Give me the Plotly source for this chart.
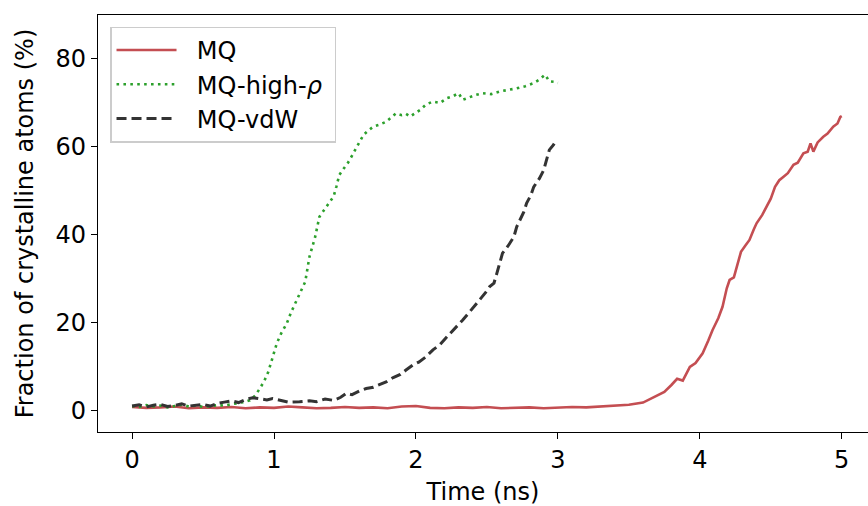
import plotly.graph_objects as go

# ---- data ----
mq_t = [0.0, 0.1, 0.2, 0.3, 0.4, 0.5, 0.6, 0.7, 0.8, 0.9, 1.0, 1.1, 1.2, 1.3, 1.4, 1.5,
        1.6, 1.7, 1.8, 1.9, 2.0, 2.1, 2.2, 2.3, 2.4, 2.5, 2.6, 2.7, 2.8, 2.9, 3.0, 3.1,
        3.2, 3.3, 3.4, 3.5, 3.6, 3.7, 3.75, 3.8, 3.84, 3.88, 3.93, 3.97, 4.02, 4.06, 4.09,
        4.13, 4.16, 4.19, 4.21, 4.24, 4.26, 4.29, 4.32, 4.35, 4.38, 4.40, 4.44, 4.47, 4.50,
        4.53, 4.56, 4.59, 4.62, 4.66, 4.69, 4.73, 4.76, 4.78, 4.80, 4.83, 4.87, 4.90, 4.94,
        4.97, 4.99, 5.0]
mq_y = [0.8, 0.6, 0.7, 0.9, 0.5, 0.7, 0.6, 0.8, 0.5, 0.7, 0.6, 0.9, 0.7, 0.5, 0.6, 0.8,
        0.6, 0.7, 0.5, 0.9, 1.0, 0.6, 0.5, 0.7, 0.6, 0.8, 0.5, 0.6, 0.7, 0.5, 0.6, 0.8,
        0.7, 0.9, 1.0, 1.3, 1.8, 3.5, 4.2, 5.8, 7.2, 6.8, 9.9, 10.8, 13.0, 15.9, 18.3,
        21.0, 23.6, 27.8, 29.7, 30.3, 32.7, 36.1, 37.5, 38.8, 41.2, 42.6, 44.5, 46.4, 48.2,
        50.9, 52.4, 53.2, 54.0, 55.9, 56.4, 58.5, 58.9, 60.8, 58.9, 61.0, 62.3, 63.0, 64.6,
        65.3, 66.8, 67.0]

hr_t = [0.0, 0.05, 0.1, 0.15, 0.2, 0.25, 0.3, 0.35, 0.4, 0.45, 0.5, 0.55, 0.6, 0.65, 0.7,
        0.75, 0.8, 0.83, 0.87, 0.90, 0.93, 0.96, 0.99, 1.02, 1.05, 1.09, 1.12, 1.16, 1.19,
        1.22, 1.25, 1.27, 1.29, 1.32, 1.35, 1.37, 1.40, 1.42, 1.44, 1.46, 1.49, 1.52, 1.55,
        1.58, 1.61, 1.63, 1.66, 1.70, 1.74, 1.79, 1.83, 1.86, 1.90, 1.93, 1.96, 2.0, 2.03,
        2.07, 2.12, 2.17, 2.22, 2.26, 2.30, 2.33, 2.37, 2.42, 2.47, 2.53, 2.59, 2.65, 2.71,
        2.77, 2.83, 2.87, 2.91, 2.94, 2.97, 3.0]
hr_y = [1.0, 0.8, 1.2, 0.9, 1.1, 0.7, 1.0, 1.3, 0.9, 1.1, 0.8, 1.0, 1.2, 1.1, 1.4,
        1.6, 2.0, 2.3, 3.5, 5.0, 6.6, 8.8, 12.0, 15.3, 17.5, 19.8, 22.3, 25.1, 27.0,
        29.3, 35.0, 37.0, 39.5, 44.1, 45.5, 46.4, 47.8, 48.7, 51.0, 53.6, 55.0, 56.3, 58.0,
        59.7, 61.5, 62.7, 63.6, 64.6, 65.0, 65.7, 66.8, 67.6, 67.2, 67.5, 66.9, 67.8, 68.4,
        69.6, 70.3, 70.0, 71.1, 71.5, 72.2, 70.7, 71.2, 71.8, 72.2, 72.0, 72.6, 72.9, 73.3,
        73.8, 74.5, 75.3, 76.4, 74.9, 74.8, 74.5]

vdw_t = [0.0, 0.05, 0.1, 0.15, 0.2, 0.25, 0.3, 0.35, 0.4, 0.45, 0.5, 0.55, 0.6, 0.65, 0.7,
         0.75, 0.8, 0.85, 0.9, 0.95, 0.99, 1.05, 1.1, 1.18, 1.25, 1.3, 1.36, 1.42, 1.47,
         1.51, 1.55, 1.6, 1.65, 1.7, 1.75, 1.79, 1.84, 1.89, 1.93, 1.98, 2.02, 2.07, 2.12,
         2.17, 2.22, 2.27, 2.33, 2.38, 2.42, 2.45, 2.49, 2.52, 2.55, 2.57, 2.59, 2.61, 2.65,
         2.69, 2.71, 2.73, 2.76, 2.78, 2.81, 2.83, 2.87, 2.90, 2.92, 2.94, 2.97, 2.99]
vdw_y = [1.0, 1.3, 0.8, 1.2, 1.4, 0.9, 1.1, 1.5, 1.0, 1.2, 1.4, 1.0, 1.6, 1.9, 2.2,
         1.8, 2.5, 2.9, 2.6, 2.4, 2.7, 2.3, 1.9, 2.0, 2.2, 2.0, 2.6, 2.3, 3.0,
         3.9, 3.6, 4.4, 5.0, 5.3, 5.9, 6.5, 7.5, 8.2, 9.2, 10.4, 11.0, 12.2, 13.8,
         15.0, 16.8, 18.5, 20.6, 22.5, 24.0, 25.1, 26.8, 28.2, 29.0, 31.2, 33.5, 35.8, 37.5,
         39.5, 41.8, 43.3, 45.2, 47.2, 49.0, 50.9, 52.8, 54.7, 56.8, 59.3, 60.5, 61.6]

x_ticks = [0, 1, 2, 3, 4, 5]
y_ticks = [0, 20, 40, 60, 80]

FONT = "DejaVu Sans"
FS = 24
PAD = "\u00a0\u00a0"

fig = go.Figure()
fig.add_trace(go.Scatter(x=mq_t, y=mq_y, mode="lines", name=PAD + "MQ",
                         line=dict(color="#c44e52", width=2.6)))
fig.add_trace(go.Scatter(x=hr_t, y=hr_y, mode="lines", name=PAD + "MQ-high-<i>ρ</i>\u00a0",
                         line=dict(color="#2ca02c", width=2.6, dash="2.6px,4.3px")))
fig.add_trace(go.Scatter(x=vdw_t, y=vdw_y, mode="lines", name=PAD + "MQ-vdW",
                         line=dict(color="#333333", width=3, dash="10px,5px")))

fig.update_layout(
    width=868, height=506,
    margin=dict(l=98, r=0, t=15, b=74),
    paper_bgcolor="white", plot_bgcolor="white",
    font=dict(family=FONT, size=FS, color="black"),
    showlegend=True,
    legend=dict(x=0.016, y=0.972, xanchor="left", yanchor="top",
                bgcolor="rgba(255,255,255,0.8)", bordercolor="#cccccc", borderwidth=1.2,
                itemwidth=60, tracegroupgap=0,
                font=dict(family=FONT, size=FS, color="black")),
    xaxis=dict(range=[-0.24, 5.185], tickvals=x_ticks, ticktext=[str(v) for v in x_ticks],
               showgrid=False, zeroline=False, showline=True, linecolor="black",
               linewidth=1.3, mirror=True, ticks="outside", ticklen=6, tickwidth=1.3,
               tickcolor="black", tickfont=dict(family=FONT, size=FS), automargin=False,
               title=dict(text="Time (ns)", font=dict(family=FONT, size=FS), standoff=10)),
    yaxis=dict(range=[-4.9, 90.0], tickvals=y_ticks, ticktext=[str(v) for v in y_ticks],
               showgrid=False, zeroline=False, showline=True, linecolor="black",
               linewidth=1.3, mirror=False, ticks="outside", ticklen=6, tickwidth=1.3,
               tickcolor="black", tickfont=dict(family=FONT, size=FS), automargin=False,
               title=dict(text="Fraction of crystalline atoms (%)",
                          font=dict(family=FONT, size=FS), standoff=15)),
)

fig.write_html("out.html", config={"displayModeBar": False},
               post_script="document.body.style.margin='0';document.body.style.padding='0';")
